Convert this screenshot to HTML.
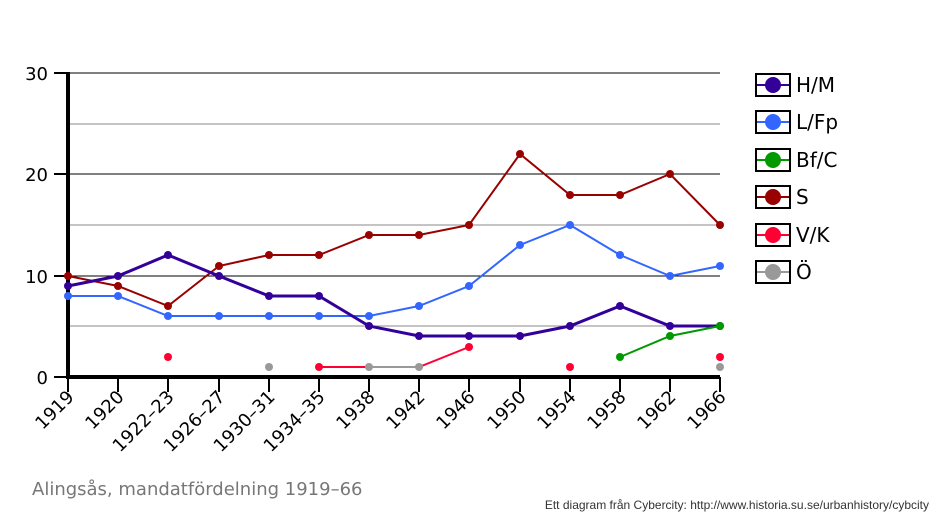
<!DOCTYPE html>
<html><head><meta charset="utf-8"><style>body{margin:0;background:#fff}svg{display:block}text{font-family:"DejaVu Sans","Liberation Sans",sans-serif}</style></head><body>
<svg width="938" height="521" viewBox="0 0 938 521" xmlns="http://www.w3.org/2000/svg">
<g stroke-width="1">
<line x1="68" y1="73" x2="720" y2="73" stroke="#000"/>
<line x1="68" y1="124" x2="720" y2="124" stroke="#888"/>
<line x1="68" y1="174" x2="720" y2="174" stroke="#000"/>
<line x1="68" y1="225" x2="720" y2="225" stroke="#888"/>
<line x1="68" y1="276" x2="720" y2="276" stroke="#000"/>
<line x1="68" y1="326" x2="720" y2="326" stroke="#888"/>
</g>
<g stroke="#000" stroke-width="2">
<line x1="54" y1="73" x2="68" y2="73"/><line x1="54" y1="174" x2="68" y2="174"/><line x1="54" y1="276" x2="68" y2="276"/><line x1="54" y1="377" x2="68" y2="377"/>
<line x1="68" y1="377" x2="68" y2="392"/><line x1="118" y1="377" x2="118" y2="392"/><line x1="168" y1="377" x2="168" y2="392"/><line x1="219" y1="377" x2="219" y2="392"/><line x1="269" y1="377" x2="269" y2="392"/><line x1="319" y1="377" x2="319" y2="392"/><line x1="369" y1="377" x2="369" y2="392"/><line x1="419" y1="377" x2="419" y2="392"/><line x1="469" y1="377" x2="469" y2="392"/><line x1="520" y1="377" x2="520" y2="392"/><line x1="570" y1="377" x2="570" y2="392"/><line x1="620" y1="377" x2="620" y2="392"/><line x1="670" y1="377" x2="670" y2="392"/><line x1="720" y1="377" x2="720" y2="392"/>
</g>
<line x1="68" y1="72" x2="68" y2="379" stroke="#000" stroke-width="4"/>
<line x1="66" y1="377" x2="720" y2="377" stroke="#000" stroke-width="4"/>
<g font-size="18" text-anchor="end" fill="#000">
<text x="48" y="80">30</text><text x="48" y="181">20</text><text x="48" y="283">10</text><text x="48" y="384">0</text>
</g>
<g font-size="18" text-anchor="end" fill="#000">
<text transform="translate(75,398) rotate(-45)">1919</text>
<text transform="translate(125,398) rotate(-45)">1920</text>
<text transform="translate(175,398) rotate(-45)">1922–23</text>
<text transform="translate(226,398) rotate(-45)">1926–27</text>
<text transform="translate(276,398) rotate(-45)">1930–31</text>
<text transform="translate(326,398) rotate(-45)">1934–35</text>
<text transform="translate(376,398) rotate(-45)">1938</text>
<text transform="translate(426,398) rotate(-45)">1942</text>
<text transform="translate(476,398) rotate(-45)">1946</text>
<text transform="translate(527,398) rotate(-45)">1950</text>
<text transform="translate(577,398) rotate(-45)">1954</text>
<text transform="translate(627,398) rotate(-45)">1958</text>
<text transform="translate(677,398) rotate(-45)">1962</text>
<text transform="translate(727,398) rotate(-45)">1966</text>
</g>
<polyline fill="none" stroke="#990000" stroke-width="2" points="68,276 118,286 168,306 219,266 269,255 319,255 369,235 419,235 469,225 520,154 570,195 620,195 670,174 720,225"/>
<g fill="#990000"><circle cx="68" cy="276" r="4"/><circle cx="118" cy="286" r="4"/><circle cx="168" cy="306" r="4"/><circle cx="219" cy="266" r="4"/><circle cx="269" cy="255" r="4"/><circle cx="319" cy="255" r="4"/><circle cx="369" cy="235" r="4"/><circle cx="419" cy="235" r="4"/><circle cx="469" cy="225" r="4"/><circle cx="520" cy="154" r="4"/><circle cx="570" cy="195" r="4"/><circle cx="620" cy="195" r="4"/><circle cx="670" cy="174" r="4"/><circle cx="720" cy="225" r="4"/></g>
<polyline fill="none" stroke="#3366ff" stroke-width="2" points="68,296 118,296 168,316 219,316 269,316 319,316 369,316 419,306 469,286 520,245 570,225 620,255 670,276 720,266"/>
<g fill="#3366ff"><circle cx="68" cy="296" r="4"/><circle cx="118" cy="296" r="4"/><circle cx="168" cy="316" r="4"/><circle cx="219" cy="316" r="4"/><circle cx="269" cy="316" r="4"/><circle cx="319" cy="316" r="4"/><circle cx="369" cy="316" r="4"/><circle cx="419" cy="306" r="4"/><circle cx="469" cy="286" r="4"/><circle cx="520" cy="245" r="4"/><circle cx="570" cy="225" r="4"/><circle cx="620" cy="255" r="4"/><circle cx="670" cy="276" r="4"/><circle cx="720" cy="266" r="4"/></g>
<polyline fill="none" stroke="#330099" stroke-width="3" points="68,286 118,276 168,255 219,276 269,296 319,296 369,326 419,336 469,336 520,336 570,326 620,306 670,326 720,326"/>
<g fill="#330099"><circle cx="68" cy="286" r="4"/><circle cx="118" cy="276" r="4"/><circle cx="168" cy="255" r="4"/><circle cx="219" cy="276" r="4"/><circle cx="269" cy="296" r="4"/><circle cx="319" cy="296" r="4"/><circle cx="369" cy="326" r="4"/><circle cx="419" cy="336" r="4"/><circle cx="469" cy="336" r="4"/><circle cx="520" cy="336" r="4"/><circle cx="570" cy="326" r="4"/><circle cx="620" cy="306" r="4"/><circle cx="670" cy="326" r="4"/><circle cx="720" cy="326" r="4"/></g>
<polyline fill="none" stroke="#009900" stroke-width="2" points="620,357 670,336 720,326"/>
<g fill="#009900"><circle cx="620" cy="357" r="4"/><circle cx="670" cy="336" r="4"/><circle cx="720" cy="326" r="4"/></g>
<polyline fill="none" stroke="#ff0033" stroke-width="2" points="319,367 369,367 419,367 469,347"/>
<g fill="#ff0033"><circle cx="168" cy="357" r="4"/><circle cx="319" cy="367" r="4"/><circle cx="469" cy="347" r="4"/><circle cx="570" cy="367" r="4"/><circle cx="720" cy="357" r="4"/></g>
<line x1="369" y1="367" x2="419" y2="367" stroke="#999" stroke-width="2"/>
<g fill="#999"><circle cx="269" cy="367" r="4"/><circle cx="369" cy="367" r="4"/><circle cx="419" cy="367" r="4"/><circle cx="720" cy="367" r="4"/></g>
<g stroke-width="2">
<rect x="756" y="74" width="34" height="22" fill="#fff" stroke="#000"/><line x1="757" y1="85" x2="789" y2="85" stroke="#330099"/><circle cx="773" cy="85" r="8" fill="#330099"/>
<rect x="756" y="111" width="34" height="22" fill="#fff" stroke="#000"/><line x1="757" y1="122" x2="789" y2="122" stroke="#3366ff"/><circle cx="773" cy="122" r="8" fill="#3366ff"/>
<rect x="756" y="149" width="34" height="22" fill="#fff" stroke="#000"/><line x1="757" y1="160" x2="789" y2="160" stroke="#009900"/><circle cx="773" cy="160" r="8" fill="#009900"/>
<rect x="756" y="186" width="34" height="22" fill="#fff" stroke="#000"/><line x1="757" y1="197" x2="789" y2="197" stroke="#990000"/><circle cx="773" cy="197" r="8" fill="#990000"/>
<rect x="756" y="224" width="34" height="22" fill="#fff" stroke="#000"/><line x1="757" y1="235" x2="789" y2="235" stroke="#ff0033"/><circle cx="773" cy="235" r="8" fill="#ff0033"/>
<rect x="756" y="261" width="34" height="22" fill="#fff" stroke="#000"/><line x1="757" y1="272" x2="789" y2="272" stroke="#999"/><circle cx="773" cy="272" r="8" fill="#999"/>
</g>
<g font-size="20" fill="#000">
<text x="796" y="92">H/M</text><text x="796" y="129">L/Fp</text><text x="796" y="167">Bf/C</text><text x="796" y="204">S</text><text x="796" y="242">V/K</text><text x="796" y="279">Ö</text>
</g>
<text x="32" y="495" font-size="18" fill="#777">Alingsås, mandatfördelning 1919–66</text>
<text x="929" y="509" font-size="12" fill="#333" text-anchor="end" style="font-family:'Liberation Sans',sans-serif">Ett diagram från Cybercity: http://www.historia.su.se/urbanhistory/cybcity</text>
</svg>
</body></html>
